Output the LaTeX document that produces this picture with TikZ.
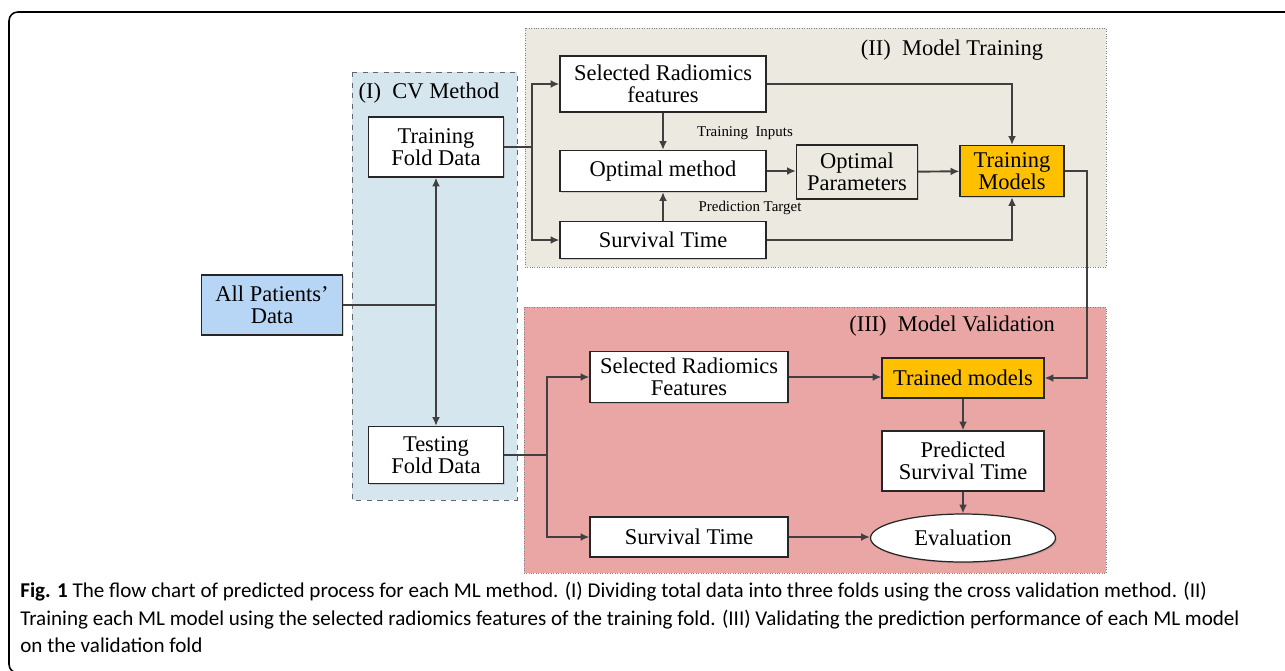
\documentclass[tikz,border=0pt]{standalone}
\usepackage{fontspec}
\setmainfont{Liberation Serif}
\newfontfamily\capfont{Carlito}
\usetikzlibrary{arrows.meta,shapes.geometric,shadows}

\definecolor{cvblue}{RGB}{214,230,238}
\definecolor{trainbeige}{RGB}{236,234,224}
\definecolor{validpink}{RGB}{233,166,165}
\definecolor{patblue}{RGB}{183,214,246}
\definecolor{modelorange}{RGB}{255,192,0}
\definecolor{linegray}{RGB}{64,64,64}

\begin{document}
\begin{tikzpicture}[x=0.02cm, y=-0.02cm, font=\fontsize{12.8}{12.5}\selectfont]
        \tikzstyle{boxstyle}=[draw=black!85, line width=0.7pt, fill=white, align=center, inner sep=0pt, drop shadow={opacity=0.3, shadow xshift=0.8pt, shadow yshift=-0.8pt}]
        \tikzstyle{arrowstyle}=[draw=linegray, line width=1.1pt, -{Latex[length=5pt,width=4.5pt]}]
        \tikzstyle{linestyle}=[draw=linegray, line width=1.1pt]
        \tikzstyle{smalltext}=[font=\fontsize{8.5}{9}\selectfont, inner sep=0pt]
        \useasboundingbox (0,0) rectangle (1285,670);

        % outer frame of the figure
        \draw[line width=0.9pt, rounded corners=5pt] (1300,673) -- (9,673) -- (9,12) -- (1300,12);

        % the three panels behind the boxes
        \draw[dashed, draw=gray!80!black, fill=cvblue] (352,72) rectangle (517,500);
        \draw[densely dotted, draw=gray, fill=trainbeige] (525,28) rectangle (1106,267);
        \draw[densely dotted, draw=gray, fill=validpink] (524,307) rectangle (1106,573);
        \node (cvtitle) at (429,93) {(I)\ \ CV Method};
        \node (traintitle) at (952,50) {(II)\ \ Model Training};
        \node (validtitle) at (952,326) {(III)\ \ Model Validation};

        % data boxes on the left
        \node[boxstyle, fill=patblue, minimum width=2.82cm, minimum height=1.2cm] (allpat) at (272,305) {All Patients'\\Data};
        \node[boxstyle, minimum width=2.7cm, minimum height=1.2cm] (trainfold) at (436,147) {Training\\Fold Data};
        \node[boxstyle, minimum width=2.7cm, minimum height=1.14cm] (testfold) at (436,455) {Testing\\Fold Data};

        % boxes of the model training
        \node[boxstyle, minimum width=4.12cm, minimum height=1.12cm] (selfeat) at (663,84) {Selected Radiomics\\features};
        \node[boxstyle, minimum width=4.12cm, minimum height=0.82cm] (optmeth) at (663,171) {Optimal method};
        \node[boxstyle, minimum width=4.12cm, minimum height=0.74cm] (survtrain) at (663,240) {Survival Time};
        \node[boxstyle, fill=trainbeige, minimum width=2.42cm, minimum height=1.08cm] (optpar) at (857,172) {Optimal\\Parameters};
        \node[boxstyle, fill=modelorange, minimum width=2.08cm, minimum height=1.02cm] (trainmod) at (1012,171) {Training\\Models};
        \node[smalltext] (inlabel) at (745,133) {Training\ \ Inputs};
        \node[smalltext] (targetlabel) at (750,208) {Prediction Target};

        % boxes of the model validation
        \node[boxstyle, minimum width=3.96cm, minimum height=1.02cm] (selval) at (689,377) {Selected Radiomics\\Features};
        \node[boxstyle, minimum width=3.96cm, minimum height=0.8cm] (survval) at (689,537) {Survival Time};
        \node[boxstyle, fill=modelorange, minimum width=3.24cm, minimum height=0.8cm] (trained) at (963,378) {Trained models};
        \node[boxstyle, minimum width=3.24cm, minimum height=1.2cm] (predsurv) at (963,461) {Predicted\\Survival Time};
        \node[boxstyle, ellipse, minimum width=3.7cm, minimum height=0.96cm] (evalnode) at (963,538) {Evaluation};

        % split all data into the two folds
        \draw[arrowstyle] (allpat.east) -| (trainfold.south);
        \draw[arrowstyle] (allpat.east) -| (testfold.north);

        % training fold feeds the training panel
        \coordinate (jtrain) at (532,0);
        \draw[linestyle] (trainfold.east) -- (trainfold.east -| jtrain);
        \draw[arrowstyle] (trainfold.east -| jtrain) |- (selfeat.west);
        \draw[arrowstyle] (trainfold.east -| jtrain) |- (survtrain.west);
        \draw[arrowstyle] (selfeat) -- (optmeth);
        \draw[arrowstyle] (survtrain) -- (optmeth);
        \draw[arrowstyle] (optmeth.east) -- (optmeth.east -| optpar.west);
        \draw[arrowstyle] (optpar) -- (trainmod);
        \draw[arrowstyle] (selfeat.east) -| (trainmod.north);
        \draw[arrowstyle] (survtrain.east) -| (trainmod.south);

        % trained models go down to the validation panel
        \coordinate (jmodel) at (1087,0);
        \draw[arrowstyle] (trainmod.east) -- (trainmod.east -| jmodel) |- (trained.east);

        % testing fold feeds the validation panel
        \coordinate (jtest) at (547,0);
        \draw[linestyle] (testfold.east) -- (testfold.east -| jtest);
        \draw[arrowstyle] (testfold.east -| jtest) |- (selval.west);
        \draw[arrowstyle] (testfold.east -| jtest) |- (survval.west);
        \draw[arrowstyle] (selval.east) -- (selval.east -| trained.west);
        \draw[arrowstyle] (trained) -- (predsurv);
        \draw[arrowstyle] (predsurv) -- (evalnode);
        \draw[arrowstyle] (survval.east) -- (survval.east -| evalnode.west);

        % caption below the chart
        \node[anchor=north west, align=left, inner sep=0pt, font=\capfont\fontsize{12}{15.6}\selectfont] (caption) at (20,582) {\textbf{Fig. 1} The flow chart of predicted process for each ML method. (I) Dividing total data into three folds using the cross validation method. (II)\\
        Training each ML model using the selected radiomics features of the training fold. (III) Validating the prediction performance of each ML model\\
        on the validation fold};
    \end{tikzpicture}
\end{document}
